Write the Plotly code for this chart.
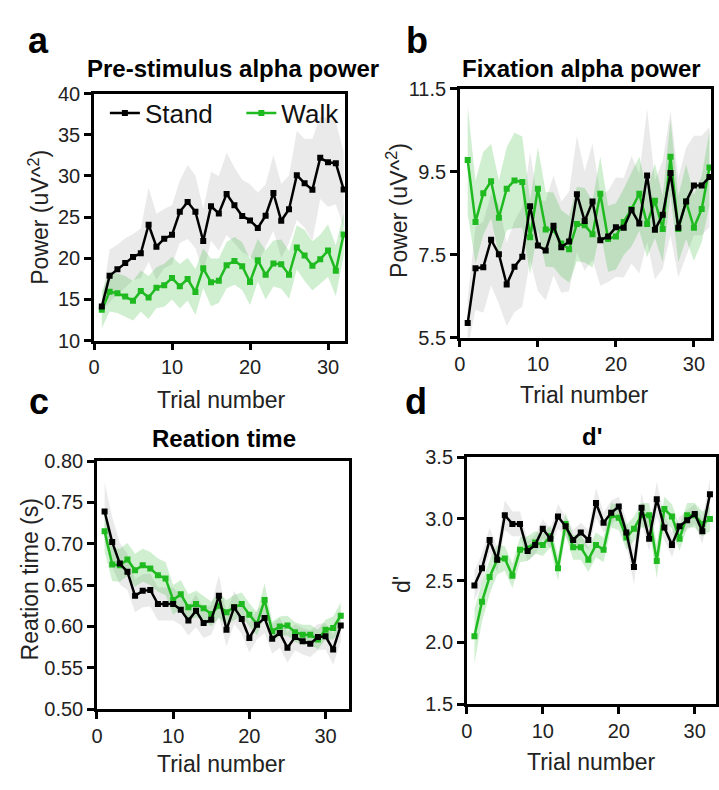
import numpy as np
import plotly.graph_objects as go

W, H = 719, 790
trials = list(range(1, 33))

# Panel a: Pre-stimulus alpha power
a_stand = [14.13, 17.86, 18.65, 19.43, 20.14, 20.61, 24.07, 21.4, 22.38, 22.85, 25.65, 26.83,
           25.65, 22.1, 26.32, 25.45, 27.81, 26.43, 25.14, 24.59, 23.68, 25.17, 27.93, 24.55,
           25.96, 30.09, 29.1, 28.32, 32.2, 31.66, 31.55, 28.36]
a_stand_sem = [0.6, 3.2, 3.0, 3.0, 2.8, 3.0, 4.5, 4.0, 3.6, 3.6, 3.8, 4.5, 4.4, 3.9, 4.2, 4.5,
               5.0, 4.6, 4.4, 4.4, 4.3, 3.8, 4.6, 4.5, 4.1, 5.4, 5.4, 6.2, 5.0, 5.4, 5.0, 4.6]
a_walk = [13.73, 15.93, 15.74, 15.34, 14.83, 16.01, 15.23, 16.41, 16.72, 17.59, 16.6, 17.47,
          15.9, 18.77, 17.07, 17.27, 19.16, 19.67, 19.04, 17.11, 19.75, 17.98, 19.36, 19.28,
          17.98, 21.32, 20.34, 19.08, 19.87, 20.93, 18.49, 22.9]
a_walk_sem = [2.2, 2.4, 2.4, 2.5, 2.4, 2.5, 2.6, 2.5, 2.6, 2.6, 2.7, 2.6, 2.8, 2.4, 2.9, 2.7,
              2.8, 2.9, 2.9, 2.8, 2.6, 3.0, 2.8, 3.0, 2.9, 2.7, 3.1, 3.0, 3.0, 3.2, 3.1, 2.6]

# Panel b: Fixation alpha power
b_stand = [5.85, 7.17, 7.2, 7.86, 7.51, 6.78, 7.21, 7.45, 8.67, 7.72, 7.6, 8.2, 7.68, 7.82,
           8.96, 8.31, 8.78, 7.85, 7.94, 8.16, 8.15, 8.58, 8.25, 9.41, 8.1, 8.46, 9.47, 8.15,
           8.78, 9.17, 9.17, 9.37]
b_stand_sem = [0.6, 1.0, 1.1, 1.1, 1.2, 1.0, 1.1, 1.2, 1.3, 1.1, 1.2, 1.2, 1.1, 1.2, 1.4, 1.2,
               1.4, 1.1, 1.1, 1.2, 1.2, 1.3, 1.2, 1.6, 1.2, 1.3, 1.5, 1.2, 1.3, 1.2, 1.2, 1.2]
b_walk = [9.78, 8.29, 8.98, 9.27, 8.39, 9.09, 9.29, 9.25, 7.92, 9.09, 8.11, 8.1, 7.77, 7.63,
          8.24, 8.21, 7.99, 8.97, 7.88, 7.94, 8.29, 8.6, 8.97, 8.24, 8.8, 8.12, 9.86, 8.12,
          8.78, 8.15, 8.6, 9.6]
b_walk_sem = [1.3, 1.0, 1.0, 0.9, 0.9, 1.0, 1.15, 1.1, 0.9, 1.0, 0.9, 0.9, 0.8, 0.8, 0.9, 0.9,
              0.8, 0.9, 0.8, 0.8, 0.8, 0.9, 0.9, 0.8, 0.9, 0.8, 0.9, 0.8, 0.9, 0.8, 0.8, 0.9]

# Panel c: Reaction time
c_stand = [0.739, 0.702, 0.676, 0.666, 0.637, 0.643, 0.644, 0.627, 0.627, 0.627, 0.620, 0.607,
           0.619, 0.604, 0.608, 0.637, 0.596, 0.623, 0.609, 0.586, 0.602, 0.610, 0.585, 0.592,
           0.574, 0.587, 0.582, 0.579, 0.587, 0.588, 0.572, 0.601]
c_stand_sem = [0.035, 0.03, 0.025, 0.022, 0.02, 0.02, 0.02, 0.02, 0.02, 0.02, 0.018, 0.018,
               0.02, 0.018, 0.018, 0.025, 0.02, 0.02, 0.018, 0.018, 0.018, 0.018, 0.018, 0.018,
               0.018, 0.016, 0.016, 0.016, 0.016, 0.016, 0.018, 0.02]
c_walk = [0.715, 0.675, 0.674, 0.681, 0.668, 0.674, 0.670, 0.662, 0.658, 0.632, 0.639, 0.623,
          0.627, 0.622, 0.615, 0.625, 0.617, 0.623, 0.627, 0.614, 0.603, 0.632, 0.594, 0.600,
          0.601, 0.593, 0.590, 0.590, 0.584, 0.596, 0.598, 0.613]
c_walk_sem = [0.025, 0.02, 0.02, 0.02, 0.02, 0.02, 0.02, 0.02, 0.02, 0.018, 0.017, 0.016,
              0.016, 0.015, 0.015, 0.015, 0.015, 0.015, 0.014, 0.014, 0.014, 0.02, 0.012, 0.012,
              0.012, 0.012, 0.012, 0.012, 0.012, 0.012, 0.014, 0.016]

# Panel d: d'
d_stand = [2.46, 2.60, 2.83, 2.67, 3.03, 2.96, 2.96, 2.74, 2.79, 2.92, 2.84, 3.02, 2.94, 2.83,
           2.89, 2.83, 3.13, 2.97, 3.05, 3.10, 2.89, 2.61, 3.09, 2.84, 3.16, 2.93, 2.79, 2.94,
           2.99, 3.04, 2.90, 3.20]
d_stand_sem = [0.12, 0.12, 0.1, 0.1, 0.12, 0.1, 0.1, 0.08, 0.08, 0.08, 0.08, 0.1, 0.08, 0.08,
               0.08, 0.08, 0.12, 0.08, 0.1, 0.08, 0.1, 0.14, 0.12, 0.1, 0.14, 0.1, 0.1, 0.08,
               0.08, 0.08, 0.1, 0.12]
d_walk = [2.05, 2.33, 2.53, 2.67, 2.68, 2.54, 2.75, 2.76, 2.81, 2.79, 2.86, 2.60, 2.96, 2.77,
          2.77, 2.67, 2.79, 2.75, 3.03, 3.01, 2.85, 2.92, 3.03, 3.03, 2.66, 3.08, 3.02, 2.84,
          3.03, 3.03, 2.96, 3.00]
d_walk_sem = [0.22, 0.16, 0.14, 0.12, 0.1, 0.1, 0.1, 0.1, 0.09, 0.09, 0.09, 0.1, 0.09, 0.1,
              0.1, 0.1, 0.1, 0.1, 0.1, 0.1, 0.1, 0.1, 0.1, 0.1, 0.14, 0.1, 0.1, 0.1, 0.1, 0.1,
              0.1, 0.1]

panel_titles = ["Pre-stimulus alpha power", "Fixation alpha power", "Reation time", "d'"]
panel_letters = ["a", "b", "c", "d"]
y_titles = ["Power (uV^<sup>2</sup>)", "Power (uV^<sup>2</sup>)", "Reation time (s)", "d'"]
x_title = "Trial number"

FONT = "Liberation Sans, Arial, sans-serif"
BLACK = "#000000"
GREEN = "#1fba1f"
GRAY_FILL = "rgba(160,160,160,0.22)"
GREEN_FILL = "rgba(40,180,40,0.22)"

def px_x(p):
    return p / W

def px_y(p):
    return 1 - p / H

# plot areas in pixels: (left, right, top, bottom)
boxes = [(89, 343, 85, 339), (459, 713, 80, 336), (92, 347, 463, 718), (466, 718, 459, 713)]
x_ranges = [[0, 32.2], [0, 32.2], [0, 33.1], [0, 32.8]]
y_axes_cfg = [
    dict(range=[10, 40], tickvals=[10, 15, 20, 25, 30, 35, 40]),
    dict(range=[5.5, 11.5], tickvals=[5.5, 7.5, 9.5, 11.5], ticktext=["5.5", "7.5", "9.5", "11.5"]),
    dict(range=[0.5, 0.8], tickvals=[0.5, 0.55, 0.6, 0.65, 0.7, 0.75, 0.8], tickformat=".2f"),
    dict(range=[1.5, 3.5], tickvals=[1.5, 2.0, 2.5, 3.0, 3.5], tickformat=".1f"),
]

data = [
    (a_stand, a_stand_sem, a_walk, a_walk_sem),
    (b_stand, b_stand_sem, b_walk, b_walk_sem),
    (c_stand, c_stand_sem, c_walk, c_walk_sem),
    (d_stand, d_stand_sem, d_walk, d_walk_sem),
]

fig = go.Figure()
layout = {}
annotations = []

for i, (box, (s, ss, w, ws)) in enumerate(zip(boxes, data)):
    n = "" if i == 0 else str(i + 1)
    xa, ya = "x" + n, "y" + n
    l, r, t, b = box
    layout["xaxis" + n] = dict(
        domain=[px_x(l), px_x(r)], range=x_ranges[i], anchor=ya,
        tickvals=[0, 10, 20, 30], showline=True, linecolor=BLACK, linewidth=2.5, mirror=True,
        ticks="outside", ticklen=7, tickwidth=2.5, tickcolor=BLACK, showgrid=False,
        zeroline=False, tickfont=dict(family=FONT, size=20, color="#222"),
    )
    ycfg = dict(
        domain=[px_y(b), px_y(t)], anchor=xa, showline=True, linecolor=BLACK, linewidth=2.5,
        mirror=True, ticks="outside", ticklen=7, tickwidth=2.5, tickcolor=BLACK,
        showgrid=False, zeroline=False, tickfont=dict(family=FONT, size=20, color="#222"),
    )
    ycfg.update(y_axes_cfg[i])
    layout["yaxis" + n] = ycfg

    for vals, sem, fillc in ((s, ss, GRAY_FILL), (w, ws, GREEN_FILL)):
        v = np.array(vals)
        e = np.array(sem)
        fig.add_trace(go.Scatter(
            x=trials + trials[::-1], y=list(v + e) + list((v - e)[::-1]),
            fill="toself", fillcolor=fillc, line=dict(width=0), mode="lines",
            hoverinfo="skip", showlegend=False, xaxis=xa, yaxis=ya,
        ))
    fig.add_trace(go.Scatter(
        x=trials, y=w, mode="lines+markers", name="Walk", legend="legend2",
        line=dict(color=GREEN, width=2.5), marker=dict(symbol="square", size=6, color=GREEN),
        showlegend=(i == 0), xaxis=xa, yaxis=ya,
    ))
    fig.add_trace(go.Scatter(
        x=trials, y=s, mode="lines+markers", name="Stand", legend="legend",
        line=dict(color=BLACK, width=2.5), marker=dict(symbol="square", size=6, color=BLACK),
        showlegend=(i == 0), xaxis=xa, yaxis=ya,
    ))

# panel letters
for letter, (cx, cy) in zip(panel_letters, [(33, 30), (416, 30), (33, 402), (415, 402)]):
    annotations.append(dict(text="<b>%s</b>" % letter, x=px_x(cx), y=px_y(cy), xref="paper",
                            yref="paper", showarrow=False, xanchor="center", yanchor="middle",
                            font=dict(family=FONT, size=36, color=BLACK)))
# panel titles
for ttl, (cx, cy) in zip(panel_titles, [(230, 59), (582, 59), (220, 440), (593, 438)]):
    annotations.append(dict(text="<b>%s</b>" % ttl, x=px_x(cx), y=px_y(cy), xref="paper",
                            yref="paper", showarrow=False, xanchor="center", yanchor="middle",
                            font=dict(family=FONT, size=24, color=BLACK)))
# x titles
for (cx, cy) in [(218, 400), (585, 395), (218, 775), (592, 773)]:
    annotations.append(dict(text=x_title, x=px_x(cx), y=px_y(cy), xref="paper", yref="paper",
                            showarrow=False, xanchor="center", yanchor="middle",
                            font=dict(family=FONT, size=23, color="#222")))
# y titles
for ttl, (cx, cy) in zip(y_titles, [(33, 212), (396, 205), (24, 585), (400, 590)]):
    annotations.append(dict(text=ttl, x=px_x(cx), y=px_y(cy), xref="paper", yref="paper",
                            showarrow=False, xanchor="center", yanchor="middle", textangle=-90,
                            font=dict(family=FONT, size=23, color="#222")))

legend_style = dict(orientation="h", xanchor="left", yanchor="middle",
                    font=dict(family=FONT, size=26, color="#111"),
                    bgcolor="rgba(0,0,0,0)", itemwidth=30)

fig.update_layout(
    width=W, height=H, margin=dict(l=0, r=0, t=0, b=0),
    paper_bgcolor="white", plot_bgcolor="white",
    legend=dict(x=px_x(100), y=px_y(105), **legend_style),
    legend2=dict(x=px_x(238), y=px_y(105), **legend_style),
    annotations=annotations,
    **layout,
)

fig.write_html("out.html")
